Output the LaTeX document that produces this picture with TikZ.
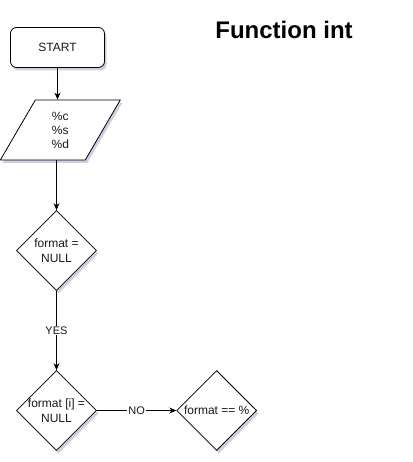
\documentclass[tikz,border=0pt]{standalone}
\usepackage{fontspec}
\setmainfont{Liberation Sans}
\usetikzlibrary{shapes.geometric,shadows,arrows.meta}
\begin{document}
\begin{tikzpicture}[x=1pt,y=-1pt,
  shd/.style={drop shadow={shadow xshift=2pt,shadow yshift=-3pt,opacity=0.3,fill=blue!25!gray}},
  base/.style={draw=black,fill=white,line width=0.8pt,shd,font=\fontsize{12}{14}\selectfont,text=black!90},
  startbox/.style={base,rectangle,rounded corners=6pt,minimum width=94pt,minimum height=40pt,inner sep=0pt},
  iobox/.style={base,trapezium,trapezium left angle=71.57,trapezium right angle=108.43,trapezium stretches=true,minimum width=120pt,minimum height=60pt,inner sep=0pt,align=center},
  decision/.style={base,diamond,minimum width=80pt,minimum height=80pt,inner sep=0pt,aspect=1},
  inlabel/.style={label={[align=center,font=\fontsize{12}{15}\selectfont,text=black!90]center:#1}},
  arr/.style={line width=0.8pt,-{Stealth[length=7pt,width=6pt]}},
  lbl/.style={fill=white,inner sep=1pt,font=\fontsize{11}{13}\selectfont,text=black!90}
]
\useasboundingbox (0,0) rectangle (412,462);
\node[startbox] (start) at (57.5,47.5) {START};
\node[iobox] (in) at (60.3,130) {\%c\\\%s\\\%d};
\node[decision,inlabel={format =\\NULL}] (d1) at (56.5,250.5) {};
\node[decision,inlabel={format [i] =\\NULL}] (d2) at (56.5,410.5) {};
\node[decision,inlabel={format == \%}] (d3) at (216.7,410.5) {};
\node[font=\bfseries\fontsize{24}{28}\selectfont] (title) at (284,30) {Function int};
\draw[arr] (start.south) -- (start.south |- in.north);
\draw[arr] (in.south -| d1.north) -- (d1.north);
\draw[arr] (d1.south) -- node[lbl] (yes) {YES} (d2.north);
\draw[arr] (d2.east) -- node[lbl] (no) {NO} (d3.west);
\end{tikzpicture}
\end{document}
